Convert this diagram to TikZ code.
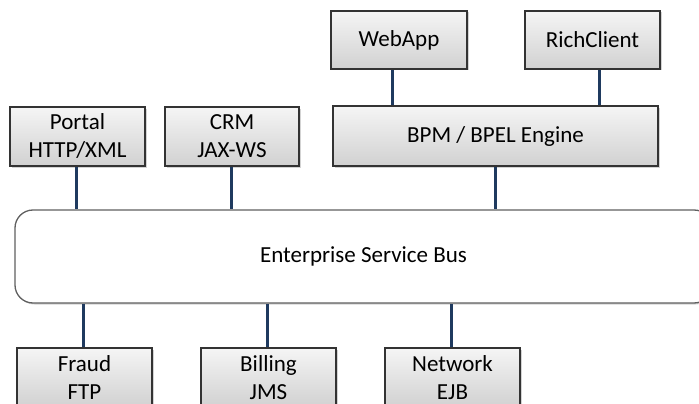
\documentclass[tikz,border=0pt]{standalone}
\usepackage{fontspec}
\setmainfont{Carlito}
\usetikzlibrary{shadows}
\definecolor{linkblue}{HTML}{1F3A5F}
\definecolor{boxedge}{HTML}{333333}
\tikzset{
  sysbox/.style={draw=boxedge, line width=1.3pt, shading=axis, top color=gray!8, bottom color=gray!36,
    minimum height=59pt, align=center, inner sep=0pt,
    drop shadow={opacity=0.35, shadow xshift=1.5pt, shadow yshift=-1.5pt},
    font=\fontsize{23}{28}\selectfont},
  busbox/.style={draw=gray!75!black, line width=1.3pt, fill=white, rounded corners=18pt,
    minimum width=697pt, minimum height=93pt, inner sep=0pt,
    drop shadow={opacity=0.35, shadow xshift=1.5pt, shadow yshift=-1.5pt},
    font=\fontsize{23}{28}\selectfont},
  link/.style={draw=linkblue, line width=3pt}
}
\begin{document}
\begin{tikzpicture}[x=1pt,y=-1pt]
\useasboundingbox (0,0) rectangle (699,404);
\clip (0,0) rectangle (699,404);
\node[sysbox, minimum width=135pt] (portal) at (77.5,136.5) {Portal\\HTTP/XML};
\node[sysbox, minimum width=134pt] (crm) at (232,136.5) {CRM\\JAX-WS};
\node[sysbox, minimum width=136pt, minimum height=58pt] (webapp) at (399,40) {WebApp};
\node[sysbox, minimum width=135pt, minimum height=58pt] (rich) at (592.5,40) {RichClient};
\node[sysbox, minimum width=325pt, minimum height=60pt] (bpm) at (495.5,136) {BPM / BPEL Engine};
\node[busbox] (esb) at (363.5,256.5) {Enterprise Service Bus};
\node[sysbox, minimum width=135pt] (fraud) at (84.5,377.5) {Fraud\\FTP};
\node[sysbox, minimum width=135pt] (billing) at (268.5,377.5) {Billing\\JMS};
\node[sysbox, minimum width=135pt] (network) at (452.5,377.5) {Network\\EJB};
\draw[link] ([xshift=-1.5pt]portal.south) -- ([xshift=-1.5pt]portal.south |- esb.north);
\draw[link] ([xshift=-1pt]crm.south) -- ([xshift=-1pt]crm.south |- esb.north);
\draw[link] ([xshift=-7pt]webapp.south) -- ([xshift=-7pt]webapp.south |- bpm.north);
\draw[link] ([xshift=6.5pt]rich.south) -- ([xshift=6.5pt]rich.south |- bpm.north);
\draw[link] (bpm.south) -- (bpm.south |- esb.north);
\draw[link] ([xshift=-1.5pt]fraud.north) -- ([xshift=-1.5pt]fraud.north |- esb.south);
\draw[link] ([xshift=-1.5pt]billing.north) -- ([xshift=-1.5pt]billing.north |- esb.south);
\draw[link] ([xshift=-1.5pt]network.north) -- ([xshift=-1.5pt]network.north |- esb.south);
\end{tikzpicture}
\end{document}
